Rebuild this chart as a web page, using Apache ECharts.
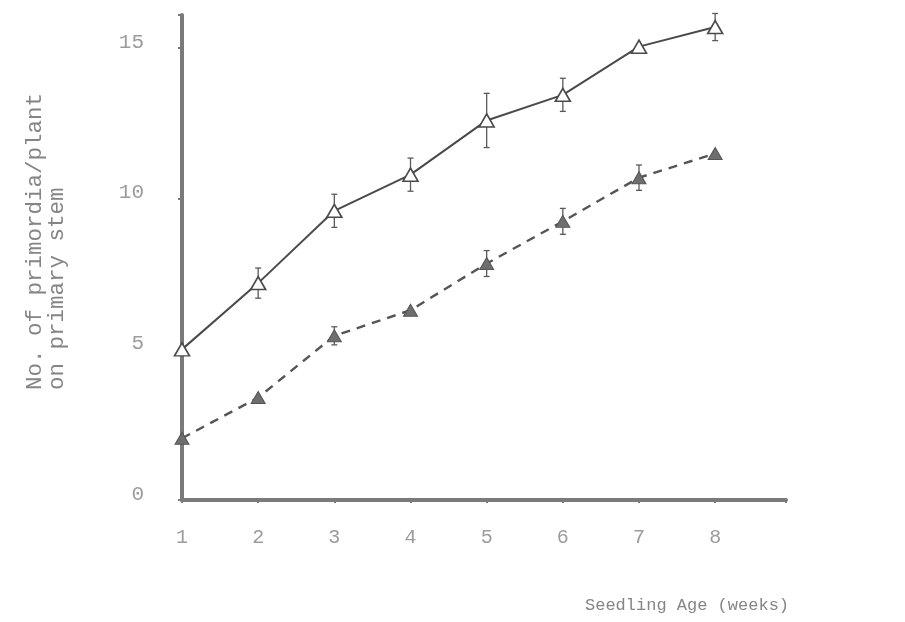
<!DOCTYPE html>
<html>
<head>
<meta charset="utf-8">
<script src="https://cdn.jsdelivr.net/npm/echarts@6/dist/echarts.min.js"></script>
<style>
  html, body { margin: 0; padding: 0; background: #fff; }
  #chart { width: 905px; height: 622px; }
</style>
</head>
<body>
<div id="chart"></div>
<script>
// Seedling age in weeks
const weeks = [1, 2, 3, 4, 5, 6, 7, 8];
// Mean number of primordia per plant on the primary stem
const openSeries = [5.0, 7.2, 9.6, 10.8, 12.6, 13.45, 15.05, 15.7];
const filledSeries = [2.05, 3.4, 5.45, 6.3, 7.85, 9.25, 10.7, 11.5];
// Half-width of the error bars (0 = no bar drawn)
const openErr = [0, 0.5, 0.55, 0.55, 0.9, 0.55, 0, 0.45];
const filledErr = [0, 0, 0.3, 0, 0.43, 0.43, 0.42, 0];
// Axis tick values
const yTicks = [0, 5, 10, 15];
const xTicks = weeks;

const MONO = '"Liberation Mono", "DejaVu Sans Mono", monospace';
const AXIS_COLOR = '#7a7a7a';
const LINE_COLOR = '#4a4a4a';

function errData(vals, errs) {
  const out = [];
  vals.forEach((v, i) => {
    if (errs[i] > 0) out.push([weeks[i], v - errs[i], v + errs[i]]);
  });
  return out;
}

function renderErr(params, api) {
  const x = api.value(0);
  const lo = api.coord([x, api.value(1)]);
  const hi = api.coord([x, api.value(2)]);
  const cap = 3;
  const style = { stroke: '#5a5a5a', lineWidth: 1.3, fill: null };
  return {
    type: 'group',
    children: [
      { type: 'line', shape: { x1: hi[0], y1: hi[1], x2: lo[0], y2: lo[1] }, style },
      { type: 'line', shape: { x1: hi[0] - cap, y1: hi[1], x2: hi[0] + cap, y2: hi[1] }, style },
      { type: 'line', shape: { x1: lo[0] - cap, y1: lo[1], x2: lo[0] + cap, y2: lo[1] }, style }
    ]
  };
}

const chart = echarts.init(document.getElementById('chart'), null, { renderer: 'canvas' });

chart.setOption({
  backgroundColor: '#ffffff',
  animation: false,
  grid: { left: 182, right: 119, top: 15, bottom: 122, containLabel: false },
  xAxis: {
    type: 'value',
    min: 1,
    max: 8.93,
    interval: 1,
    splitLine: { show: false },
    axisLine: { show: true, lineStyle: { color: AXIS_COLOR, width: 4 } },
    axisTick: { show: true, length: 3, lineStyle: { color: AXIS_COLOR, width: 2 } },
    axisLabel: {
      margin: 28,
      color: '#9c9c9c',
      fontFamily: MONO,
      fontSize: 20,
      formatter: v => (xTicks.indexOf(v) >= 0 ? String(v) : '')
    }
  },
  yAxis: {
    type: 'value',
    min: 0,
    max: 16.1,
    interval: 5,
    splitLine: { show: false },
    axisLine: { show: true, lineStyle: { color: AXIS_COLOR, width: 4 } },
    axisTick: { show: true, length: 4, lineStyle: { color: AXIS_COLOR, width: 2 } },
    axisLabel: {
      margin: 38,
      color: '#9c9c9c',
      fontFamily: MONO,
      fontSize: 21,
      verticalAlign: 'bottom',
      lineHeight: 12,
      formatter: v => (yTicks.indexOf(v) >= 0 ? String(v) : '')
    }
  },
  graphic: [
    {
      type: 'text',
      x: 35, y: 390,
      rotation: Math.PI / 2,
      style: {
        text: 'No. of primordia/plant',
        font: '22.5px ' + MONO,
        fill: '#858585',
        align: 'left',
        verticalAlign: 'middle'
      }
    },
    {
      type: 'text',
      x: 57, y: 390,
      rotation: Math.PI / 2,
      style: {
        text: 'on primary stem',
        font: '22.5px ' + MONO,
        fill: '#858585',
        align: 'left',
        verticalAlign: 'middle'
      }
    },
    {
      type: 'text',
      x: 585, y: 605,
      style: {
        text: 'Seedling Age (weeks)',
        font: '17px ' + MONO,
        fill: '#858585',
        align: 'left',
        verticalAlign: 'middle'
      }
    }
  ],
  series: [
    {
      type: 'custom',
      renderItem: renderErr,
      data: errData(openSeries, openErr),
      z: 2,
      silent: true
    },
    {
      type: 'custom',
      renderItem: renderErr,
      data: errData(filledSeries, filledErr),
      z: 2,
      silent: true
    },
    {
      name: 'open',
      type: 'line',
      data: weeks.map((w, i) => [w, openSeries[i]]),
      symbol: 'triangle',
      symbolSize: [15, 13],
      showAllSymbol: true,
      lineStyle: { color: LINE_COLOR, width: 2, type: 'solid' },
      itemStyle: { color: '#ffffff', borderColor: '#4a4a4a', borderWidth: 1.6 },
      z: 5
    },
    {
      name: 'filled',
      type: 'line',
      data: weeks.map((w, i) => [w, filledSeries[i]]),
      symbol: 'triangle',
      symbolSize: [14, 12],
      showAllSymbol: true,
      lineStyle: { color: '#555555', width: 2.4, type: [9, 7] },
      itemStyle: { color: '#6e6e6e', borderColor: '#555555', borderWidth: 1 },
      z: 5
    }
  ]
});
</script>
</body>
</html>
